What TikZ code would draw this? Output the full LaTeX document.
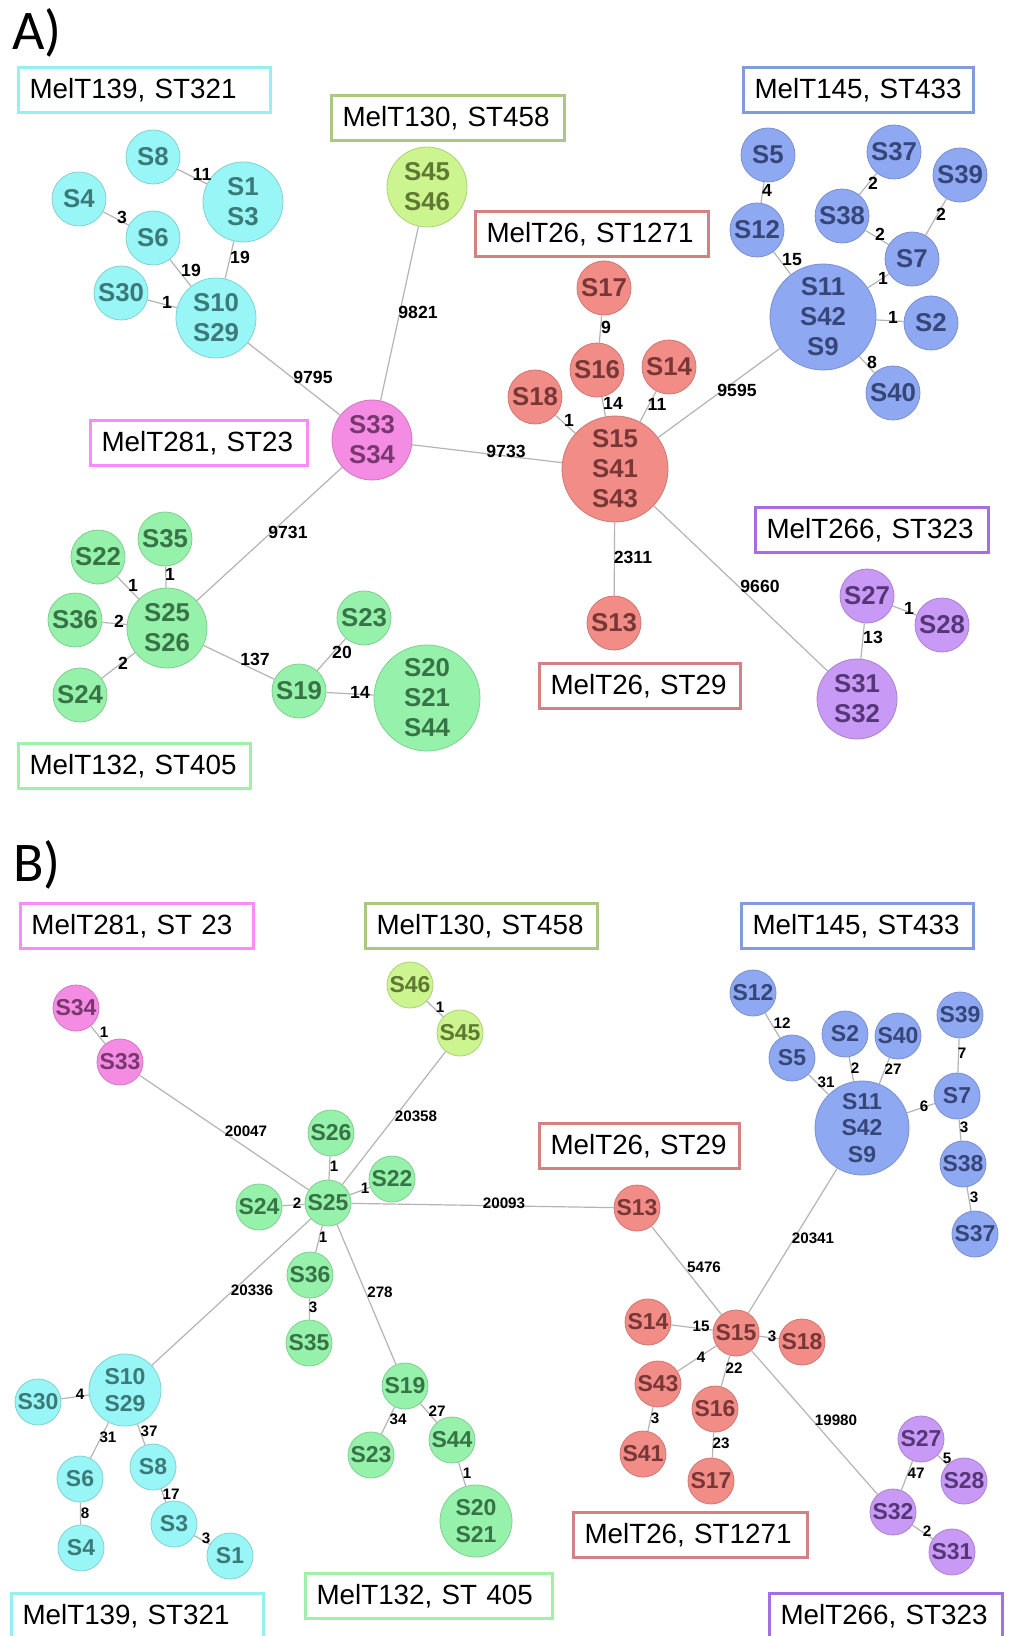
\documentclass[tikz,border=0pt]{standalone}
\usepackage{fontspec}
\setmainfont{Liberation Sans}
\newfontfamily\panelfont{Carlito}
\definecolor{cyF}{RGB}{153,246,246}
\definecolor{cyT}{RGB}{60,122,122}
\definecolor{ygF}{RGB}{204,245,143}
\definecolor{ygT}{RGB}{95,120,50}
\definecolor{pkF}{RGB}{245,140,228}
\definecolor{pkT}{RGB}{120,55,110}
\definecolor{rdF}{RGB}{242,140,135}
\definecolor{rdT}{RGB}{120,55,55}
\definecolor{blF}{RGB}{143,168,242}
\definecolor{blT}{RGB}{55,70,120}
\definecolor{grF}{RGB}{150,242,170}
\definecolor{grT}{RGB}{55,115,70}
\definecolor{puF}{RGB}{200,153,245}
\definecolor{puT}{RGB}{85,55,120}
\definecolor{cyB}{RGB}{150,240,240}
\definecolor{ygB}{RGB}{170,200,130}
\definecolor{rdB}{RGB}{210,130,130}
\definecolor{blB}{RGB}{130,155,220}
\definecolor{pkB}{RGB}{250,140,250}
\definecolor{grB}{RGB}{160,240,170}
\definecolor{puB}{RGB}{165,110,225}
\definecolor{lineC}{RGB}{180,180,180}

\begin{document}
\begin{tikzpicture}[x=0.5pt,y=-0.5pt]
\tikzstyle{every node}+=[inner sep=0pt]
\tikzstyle{st}=[circle, align=center, line width=0.4pt]
\tikzstyle{sa}=[st, minimum size=27pt, font=\fontsize{12.9}{15}\selectfont\bfseries]
\tikzstyle{ma}=[sa, minimum size=40pt]
\tikzstyle{la}=[sa, minimum size=53pt]
\tikzstyle{sb}=[st, minimum size=23pt, font=\fontsize{11.5}{13.3}\selectfont\bfseries]
\tikzstyle{mb}=[sb, minimum size=36pt]
\tikzstyle{lb}=[sb, minimum size=47pt]
\tikzstyle{cy}=[fill=cyF, draw=cyF!85!black, text=cyT]
\tikzstyle{yg}=[fill=ygF, draw=ygF!85!black, text=ygT]
\tikzstyle{pk}=[fill=pkF, draw=pkF!85!black, text=pkT]
\tikzstyle{rd}=[fill=rdF, draw=rdF!85!black, text=rdT]
\tikzstyle{bl}=[fill=blF, draw=blF!85!black, text=blT]
\tikzstyle{gr}=[fill=grF, draw=grF!85!black, text=grT]
\tikzstyle{pu}=[fill=puF, draw=puF!85!black, text=puT]
\tikzstyle{ln}=[draw=lineC, line width=0.6pt]
\tikzstyle{wa}=[font=\fontsize{8.8}{10}\selectfont\bfseries]
\tikzstyle{wb}=[font=\fontsize{7.6}{9}\selectfont\bfseries]
\tikzstyle{tag}=[draw, line width=1.5pt, anchor=west, minimum height=22.5pt, inner xsep=5.5pt, align=left, font=\fontsize{13.9}{16}\selectfont]
\tikzstyle{panel}=[font=\panelfont\fontsize{28}{30}\selectfont]
\useasboundingbox [fill=white] (0,0) rectangle (1010,1636);

% A)
\draw (37,33) node [panel] (pA) {A)};
\node [tag, draw=cyB, text width=115pt] (tA1) at (17,90) {MelT139, ST321};
\node [tag, draw=ygB, text width=105.5pt] (tA2) at (330,118) {MelT130, ST458};
\node [tag, draw=rdB, text width=105.5pt] (tA3) at (474,234) {MelT26, ST1271};
\node [tag, draw=blB, text width=104pt] (tA4) at (742,90) {MelT145, ST433};
\node [tag, draw=pkB, text width=97.5pt] (tA5) at (89,443) {MelT281, ST23};
\node [tag, draw=puB, text width=105.5pt] (tA6) at (754,530) {MelT266, ST323};
\node [tag, draw=rdB, text width=89.5pt] (tA7) at (538,686) {MelT26, ST29};
\node [tag, draw=grB, text width=105pt] (tA8) at (17,766) {MelT132, ST405};

\node [sa, cy] (A8) at (153,157) {S8};
\node [sa, cy] (A4) at (79,199) {S4};
\node [ma, cy] (A1) at (243,202) {S1\\S3};
\node [sa, cy] (A6) at (153,238) {S6};
\node [sa, cy] (A30) at (121,293) {S30};
\node [ma, cy] (A10) at (216,318) {S10\\S29};
\node [ma, yg] (A45) at (427,187) {S45\\S46};
\node [ma, pk] (A33) at (372,440) {S33\\S34};
\node [sa, rd] (A17) at (604,288) {S17};
\node [sa, rd] (A16) at (597,370) {S16};
\node [sa, rd] (A14) at (669,367) {S14};
\node [sa, rd] (A18) at (535,397) {S18};
\node [la, rd] (A15) at (615,469) {S15\\S41\\S43};
\node [sa, rd] (A13) at (614,623) {S13};
\node [sa, bl] (A5) at (768,155) {S5};
\node [sa, bl] (A37) at (894,152) {S37};
\node [sa, bl] (A39) at (960,175) {S39};
\node [sa, bl] (A38) at (842,216) {S38};
\node [sa, bl] (A12) at (757,230) {S12};
\node [sa, bl] (A7) at (912,259) {S7};
\node [la, bl] (A11) at (823,317) {S11\\S42\\S9};
\node [sa, bl] (A2) at (931,323) {S2};
\node [sa, bl] (A40) at (893,393) {S40};
\node [sa, gr] (A35) at (165,539) {S35};
\node [sa, gr] (A22) at (98,557) {S22};
\node [sa, gr] (A36) at (75,620) {S36};
\node [ma, gr] (A25) at (167,628) {S25\\S26};
\node [sa, gr] (A24) at (80,695) {S24};
\node [sa, gr] (A23) at (364,618) {S23};
\node [sa, gr] (A19) at (299,691) {S19};
\node [la, gr] (A20) at (427,698) {S20\\S21\\S44};
\node [sa, pu] (A27) at (867,596) {S27};
\node [sa, pu] (A28) at (942,625) {S28};
\node [ma, pu] (A31) at (857,699) {S31\\S32};

\draw [ln] (A8) -- (A1);
\draw (202,174) node [wa] (wA1) {11};
\draw [ln] (A4) -- (A6);
\draw (122,217) node [wa] (wA2) {3};
\draw [ln] (A6) -- (A10);
\draw (191,270) node [wa] (wA3) {19};
\draw [ln] (A1) -- (A10);
\draw (240,257) node [wa] (wA4) {19};
\draw [ln] (A30) -- (A10);
\draw (167,302) node [wa] (wA5) {1};
\draw [ln] (A10) -- (A33);
\draw (313,377) node [wa] (wA6) {9795};
\draw [ln] (A45) -- (A33);
\draw (418,312) node [wa] (wA7) {9821};
\draw [ln] (A33) -- (A15);
\draw (506,451) node [wa] (wA8) {9733};
\draw [ln] (A33) -- (A25);
\draw (288,532) node [wa] (wA9) {9731};
\draw [ln] (A17) -- (A16);
\draw (606,327) node [wa] (wA10) {9};
\draw [ln] (A16) -- (A15);
\draw (613,403) node [wa] (wA11) {14};
\draw [ln] (A14) -- (A15);
\draw (657,404) node [wa] (wA12) {11};
\draw [ln] (A18) -- (A15);
\draw (569,420) node [wa] (wA13) {1};
\draw [ln] (A15) -- (A11);
\draw (737,390) node [wa] (wA14) {9595};
\draw [ln] (A15) -- (A13);
\draw (633,557) node [wa] (wA15) {2311};
\draw [ln] (A15) -- (A31);
\draw (760,586) node [wa] (wA16) {9660};
\draw [ln] (A5) -- (A12);
\draw (767,190) node [wa] (wA17) {4};
\draw [ln] (A12) -- (A11);
\draw (792,260) node [wa] (wA18) {15};
\draw [ln] (A37) -- (A38);
\draw (873,183) node [wa] (wA19) {2};
\draw [ln] (A38) -- (A7);
\draw (880,234) node [wa] (wA20) {2};
\draw [ln] (A39) -- (A7);
\draw (941,214) node [wa] (wA21) {2};
\draw [ln] (A7) -- (A11);
\draw (883,278) node [wa] (wA22) {1};
\draw [ln] (A2) -- (A11);
\draw (893,317) node [wa] (wA23) {1};
\draw [ln] (A40) -- (A11);
\draw (872,362) node [wa] (wA24) {8};
\draw [ln] (A22) -- (A25);
\draw (133,585) node [wa] (wA25) {1};
\draw [ln] (A35) -- (A25);
\draw (170,574) node [wa] (wA26) {1};
\draw [ln] (A36) -- (A25);
\draw (119,621) node [wa] (wA27) {2};
\draw [ln] (A24) -- (A25);
\draw (123,663) node [wa] (wA28) {2};
\draw [ln] (A25) -- (A19);
\draw (255,659) node [wa] (wA29) {137};
\draw [ln] (A19) -- (A23);
\draw (342,652) node [wa] (wA30) {20};
\draw [ln] (A19) -- (A20);
\draw (360,692) node [wa] (wA31) {14};
\draw [ln] (A27) -- (A28);
\draw (909,608) node [wa] (wA32) {1};
\draw [ln] (A27) -- (A31);
\draw (873,637) node [wa] (wA33) {13};

% B)
\draw (37,865) node [panel] (pB) {B)};
\node [tag, draw=pkB, text width=105.5pt] (tB1) at (19,926) {MelT281, ST 23};
\node [tag, draw=ygB, text width=105pt] (tB2) at (364,926) {MelT130, ST458};
\node [tag, draw=blB, text width=105pt] (tB3) at (740,926) {MelT145, ST433};
\node [tag, draw=rdB, text width=89pt] (tB4) at (538,1146) {MelT26, ST29};
\node [tag, draw=rdB, text width=106pt] (tB5) at (572,1535) {MelT26, ST1271};
\node [tag, draw=grB, text width=112.5pt] (tB6) at (304,1596) {MelT132, ST 405};
\node [tag, draw=cyB, text width=115pt] (tB7) at (10,1616) {MelT139, ST321};
\node [tag, draw=puB, text width=105.5pt] (tB8) at (768,1616) {MelT266, ST323};

\node [sb, pk] (B34) at (76,1008) {S34};
\node [sb, pk] (B33) at (120,1062) {S33};
\node [sb, yg] (B46) at (410,985) {S46};
\node [sb, yg] (B45) at (460,1033) {S45};
\node [sb, gr] (B26) at (331,1133) {S26};
\node [sb, gr] (B22) at (392,1179) {S22};
\node [sb, gr] (B25) at (328,1203) {S25};
\node [sb, gr] (B24) at (259,1207) {S24};
\node [sb, gr] (B36) at (310,1275) {S36};
\node [sb, gr] (B35) at (309,1343) {S35};
\node [sb, gr] (B19) at (405,1386) {S19};
\node [sb, gr] (B23) at (371,1455) {S23};
\node [sb, gr] (B44) at (452,1440) {S44};
\node [mb, gr] (B20) at (476,1521) {S20\\S21};
\node [sb, rd] (B13) at (637,1208) {S13};
\node [sb, rd] (B15) at (736,1333) {S15};
\node [sb, rd] (B14) at (648,1322) {S14};
\node [sb, rd] (B18) at (802,1342) {S18};
\node [sb, rd] (B43) at (658,1384) {S43};
\node [sb, rd] (B16) at (715,1409) {S16};
\node [sb, rd] (B41) at (643,1454) {S41};
\node [sb, rd] (B17) at (711,1481) {S17};
\node [sb, bl] (B12) at (753,993) {S12};
\node [sb, bl] (B5) at (792,1058) {S5};
\node [sb, bl] (B2) at (845,1034) {S2};
\node [sb, bl] (B40) at (898,1036) {S40};
\node [sb, bl] (B39) at (960,1015) {S39};
\node [sb, bl] (B7) at (957,1096) {S7};
\node [sb, bl] (B38) at (963,1164) {S38};
\node [sb, bl] (B37) at (975,1234) {S37};
\node [lb, bl] (B11) at (862,1128) {S11\\S42\\S9};
\node [sb, pu] (B27) at (921,1439) {S27};
\node [sb, pu] (B28) at (964,1481) {S28};
\node [sb, pu] (B32) at (893,1512) {S32};
\node [sb, pu] (B31) at (952,1552) {S31};
\node [mb, cy] (B10) at (125,1390) {S10\\S29};
\node [sb, cy] (B30) at (38,1402) {S30};
\node [sb, cy] (B6) at (80,1479) {S6};
\node [sb, cy] (B4) at (81,1548) {S4};
\node [sb, cy] (B8) at (153,1467) {S8};
\node [sb, cy] (B3) at (174,1524) {S3};
\node [sb, cy] (B1) at (230,1556) {S1};

\draw [ln] (B34) -- (B33);
\draw (104,1032) node [wb] (wB1) {1};
\draw [ln] (B46) -- (B45);
\draw (440,1007) node [wb] (wB2) {1};
\draw [ln] (B33) -- (B25);
\draw (246,1131) node [wb] (wB3) {20047};
\draw [ln] (B45) -- (B25);
\draw (416,1116) node [wb] (wB4) {20358};
\draw [ln] (B26) -- (B25);
\draw (334,1166) node [wb] (wB5) {1};
\draw [ln] (B22) -- (B25);
\draw (365,1188) node [wb] (wB6) {1};
\draw [ln] (B24) -- (B25);
\draw (297,1203) node [wb] (wB7) {2};
\draw [ln] (B25) -- (B13);
\draw (504,1203) node [wb] (wB8) {20093};
\draw [ln] (B25) -- (B36);
\draw (323,1237) node [wb] (wB9) {1};
\draw [ln] (B36) -- (B35);
\draw (313,1307) node [wb] (wB10) {3};
\draw [ln] (B25) -- (B10);
\draw (252,1290) node [wb] (wB11) {20336};
\draw [ln] (B25) -- (B19);
\draw (380,1292) node [wb] (wB12) {278};
\draw [ln] (B19) -- (B23);
\draw (398,1419) node [wb] (wB13) {34};
\draw [ln] (B19) -- (B44);
\draw (437,1411) node [wb] (wB14) {27};
\draw [ln] (B44) -- (B20);
\draw (467,1473) node [wb] (wB15) {1};
\draw [ln] (B10) -- (B30);
\draw (80,1394) node [wb] (wB16) {4};
\draw [ln] (B10) -- (B6);
\draw (108,1437) node [wb] (wB17) {31};
\draw [ln] (B10) -- (B8);
\draw (149,1431) node [wb] (wB18) {37};
\draw [ln] (B6) -- (B4);
\draw (85,1513) node [wb] (wB19) {8};
\draw [ln] (B8) -- (B3);
\draw (171,1494) node [wb] (wB20) {17};
\draw [ln] (B3) -- (B1);
\draw (206,1538) node [wb] (wB21) {3};
\draw [ln] (B13) -- (B15);
\draw (704,1267) node [wb] (wB22) {5476};
\draw [ln] (B11) -- (B15);
\draw (813,1238) node [wb] (wB23) {20341};
\draw [ln] (B14) -- (B15);
\draw (701,1326) node [wb] (wB24) {15};
\draw [ln] (B15) -- (B18);
\draw (772,1336) node [wb] (wB25) {3};
\draw [ln] (B43) -- (B15);
\draw (701,1357) node [wb] (wB26) {4};
\draw [ln] (B16) -- (B15);
\draw (734,1368) node [wb] (wB27) {22};
\draw [ln] (B43) -- (B41);
\draw (655,1418) node [wb] (wB28) {3};
\draw [ln] (B16) -- (B17);
\draw (721,1443) node [wb] (wB29) {23};
\draw [ln] (B15) -- (B32);
\draw (836,1420) node [wb] (wB30) {19980};
\draw [ln] (B27) -- (B28);
\draw (947,1458) node [wb] (wB31) {5};
\draw [ln] (B27) -- (B32);
\draw (916,1473) node [wb] (wB32) {47};
\draw [ln] (B32) -- (B31);
\draw (927,1531) node [wb] (wB33) {2};
\draw [ln] (B12) -- (B5);
\draw (782,1023) node [wb] (wB34) {12};
\draw [ln] (B5) -- (B11);
\draw (826,1082) node [wb] (wB35) {31};
\draw [ln] (B2) -- (B11);
\draw (855,1068) node [wb] (wB36) {2};
\draw [ln] (B40) -- (B11);
\draw (893,1069) node [wb] (wB37) {27};
\draw [ln] (B11) -- (B7);
\draw (924,1106) node [wb] (wB38) {6};
\draw [ln] (B39) -- (B7);
\draw (962,1053) node [wb] (wB39) {7};
\draw [ln] (B7) -- (B38);
\draw (964,1127) node [wb] (wB40) {3};
\draw [ln] (B38) -- (B37);
\draw (974,1197) node [wb] (wB41) {3};
\end{tikzpicture}
\end{document}
